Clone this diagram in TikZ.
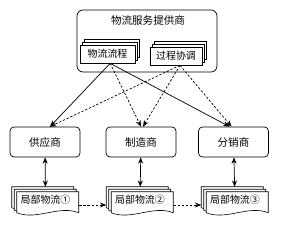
\documentclass[tikz,border=0pt]{standalone}
\usepackage{fontspec}
\newfontfamily\cjk{Noto Sans CJK SC}
\usetikzlibrary{arrows.meta,shadows,backgrounds,calc}

% stacked document outlines behind a named node
\newcommand\docstack[1]{%
  \foreach \k in {0,1,2}{%
    \draw[docline] ($(#1.north west)+(2.5*\k,2.5*\k)$)
      -- ++(62,0) -- ++(0,21)
      .. controls +(-20,-8) and +(20,8) .. ++(-62,0) -- cycle;}}

\begin{document}
\begin{tikzpicture}[x=0.3mm,y=-0.3mm,
  >={Stealth[length=1.9mm,width=1.5mm]},
  every node/.style={font=\cjk\fontsize{8.5}{10}\selectfont,inner sep=1pt},
  outer/.style={draw,rounded corners=1.8mm,line width=.6pt,
    minimum width=42mm,minimum height=18.6mm},
  stackbox/.style={draw,fill=white,line width=.6pt,minimum height=5.4mm,
    double copy shadow={shadow xshift=.6mm,shadow yshift=.9mm,draw,fill=white}},
  party/.style={draw,rounded corners=1.2mm,line width=.6pt,
    minimum width=21mm,minimum height=9mm,font=\cjk\fontsize{9}{11}\selectfont},
  docnode/.style={minimum width=20.1mm,minimum height=7.8mm},
  docline/.style={draw,fill=white,line width=.5pt},
  link/.style={->,line width=.6pt},
  dlink/.style={link,dash pattern=on 2pt off 1.5pt}]
  \useasboundingbox (0,0) rectangle (281,232);

  \node[outer] (lsp) at (147,41) {};
  \node[font=\cjk\fontsize{9}{11}\selectfont] (title) at (148,20) {物流服务提供商};
  \node[stackbox,minimum width=16.5mm] (flow) at (107.5,54) {物流流程};
  \node[stackbox,minimum width=15.6mm] (coord) at (176,56) {过程协调};

  \node[party] (supplier) at (45,142) {供应商};
  \node[party] (maker) at (141,142) {制造商};
  \node[party] (dist) at (233.5,142) {分销商};

  \node[docnode] (doc1) at (45.5,200) {局部物流①};
  \node[docnode] (doc2) at (140,200) {局部物流②};
  \node[docnode] (doc3) at (235,200) {局部物流③};
  \begin{scope}[on background layer]
    \docstack{doc1}
    \docstack{doc2}
    \docstack{doc3}
  \end{scope}

  \draw[link] ([xshift=.8mm]flow.south) -- ([xshift=1.5mm]supplier.north);
  \draw[dlink] ([xshift=.8mm]flow.south) -- (maker.north);
  \draw[link] ([xshift=.8mm]flow.south) -- ([xshift=-1.2mm]dist.north);
  \draw[dlink] ([xshift=1.2mm]coord.south) -- ([xshift=1.5mm]supplier.north);
  \draw[dlink] ([xshift=1.2mm]coord.south) -- ([xshift=.6mm]maker.north);
  \draw[dlink] ([xshift=1.2mm]coord.south) -- ([xshift=-.6mm]dist.north);

  \draw[<->,line width=.6pt] (supplier) -- (doc1);
  \draw[<->,line width=.6pt] (maker) -- (doc2);
  \draw[<->,line width=.6pt] (dist) -- (doc3);

  \draw[dlink] ([yshift=-1.5mm]doc1.east) -- ([yshift=-1.5mm]doc2.west);
  \draw[dlink] ([yshift=-1.5mm]doc2.east) -- ([yshift=-1.5mm]doc3.west);
\end{tikzpicture}
\end{document}
